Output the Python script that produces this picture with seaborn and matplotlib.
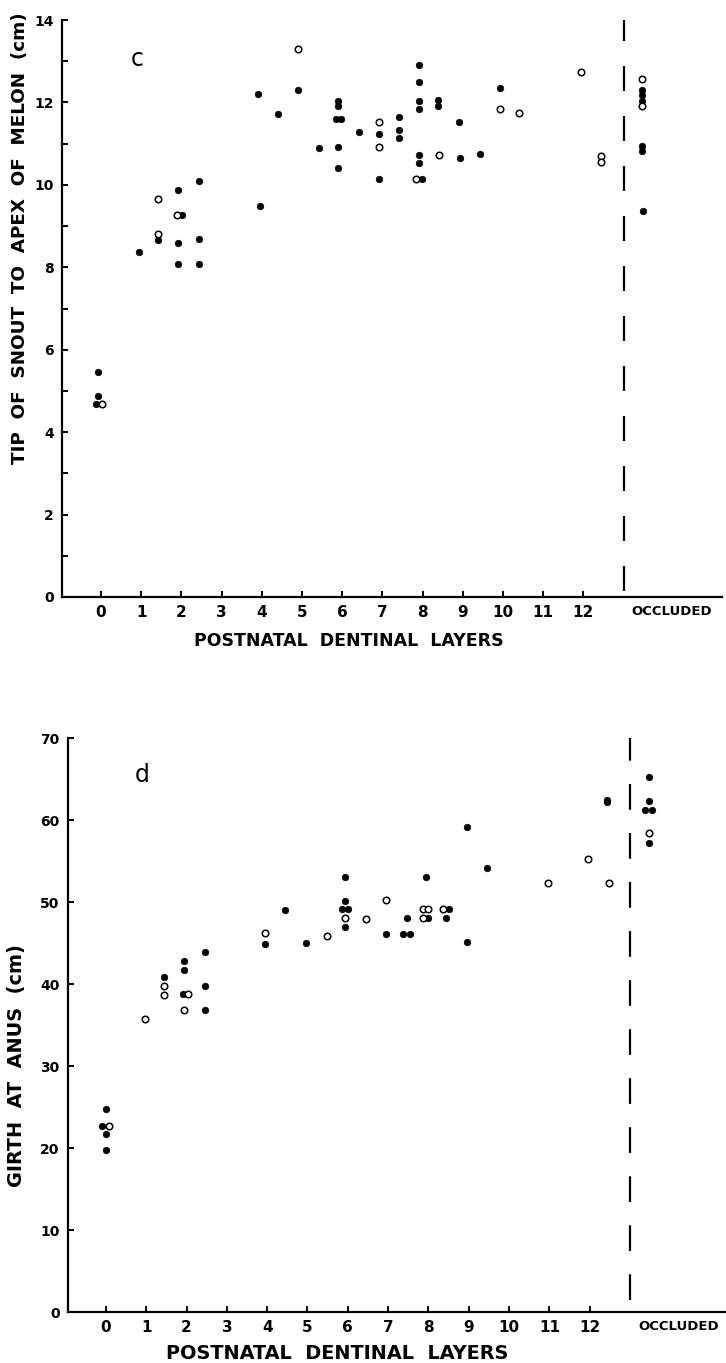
import matplotlib
matplotlib.use("Agg")
import matplotlib.pyplot as plt
import seaborn as sns
import pandas as pd

# ---------------- data (panel c: tip of snout to apex of melon, cm) ----------------
c_filled_x = [-0.07, -0.07, -0.12, 0.95, 1.43, 1.92, 2.02, 1.92, 1.92, 2.44, 2.44, 2.44,
              3.90, 3.95, 4.41, 4.91, 5.42, 5.90, 5.90, 5.84, 5.98, 5.90, 5.90,
              6.43, 6.92, 6.92, 7.41, 7.41, 7.41, 7.90, 7.91, 7.90, 7.90, 7.91, 7.91, 7.99,
              8.39, 8.39, 8.91, 8.93, 9.43, 9.93,
              13.45, 13.45, 13.45, 13.47, 13.47, 13.48]
c_filled_y = [5.45, 4.87, 4.68, 8.38, 8.66, 9.87, 9.28, 8.58, 8.08, 10.10, 8.69, 8.07,
              12.21, 9.49, 11.71, 12.30, 10.90, 12.04, 11.92, 11.60, 11.60, 10.93, 10.42,
              11.29, 11.23, 10.13, 11.65, 11.33, 11.13, 12.91, 12.50, 12.03, 11.85, 10.72, 10.52, 10.13,
              12.07, 11.92, 11.53, 10.64, 10.74, 12.34,
              12.29, 12.18, 12.04, 10.95, 10.82, 9.37]
c_open_x = [0.03, 1.43, 1.43, 1.88, 4.91, 6.92, 6.92, 7.84, 8.41, 9.93, 10.41, 11.95,
            12.45, 12.45, 13.45, 13.45]
c_open_y = [4.68, 9.66, 8.80, 9.28, 13.30, 11.53, 10.93, 10.13, 10.73, 11.85, 11.74, 12.74,
            10.69, 10.55, 12.56, 11.92]

# ---------------- data (panel d: girth at anus, cm) ----------------
d_filled_x = [0.00, -0.10, 0.00, 0.00, 1.44, 1.94, 1.94, 1.90, 2.46, 2.46, 2.46,
              3.95, 4.44, 4.96, 5.93, 5.93, 5.86, 6.00, 5.93,
              6.95, 7.38, 7.54, 7.46, 7.93, 8.00, 8.52, 8.44, 8.95, 8.95, 9.45,
              12.44, 12.44, 13.46, 13.46, 13.36, 13.55, 13.46]
d_filled_y = [24.8, 22.7, 21.7, 19.7, 40.9, 42.8, 41.7, 38.8, 43.9, 39.8, 36.8,
              44.9, 49.0, 45.0, 53.0, 50.1, 49.1, 49.1, 47.0,
              46.1, 46.1, 46.1, 48.1, 53.1, 48.1, 49.1, 48.1, 59.2, 45.1, 54.2,
              62.2, 62.5, 65.3, 62.3, 61.2, 61.2, 57.2]
d_open_x = [0.08, 0.97, 1.44, 1.44, 2.04, 1.94, 3.95, 5.48, 5.93, 6.45, 6.95,
            7.86, 8.00, 7.86, 8.37, 10.96, 11.96, 12.47, 13.46]
d_open_y = [22.7, 35.7, 39.8, 38.7, 38.8, 36.8, 46.2, 45.9, 48.0, 47.9, 50.2,
            49.1, 49.1, 48.1, 49.1, 52.3, 55.3, 52.3, 58.4]

x_tick_values = list(range(13))
x_tick_labels = [str(v) for v in x_tick_values]
occluded_pos = 14.2
occluded_label = "OCCLUDED"
divider_x = 13

sns.set_style("ticks")
plt.rcParams['font.family'] = ['DejaVu Sans']
plt.rcParams['lines.scale_dashes'] = False
for k in ("text.color", "axes.labelcolor", "xtick.color", "ytick.color", "axes.edgecolor"):
    plt.rcParams[k] = "black"

fig = plt.figure(figsize=(7.26, 13.63), dpi=100)
ax1 = fig.add_axes([62/726, 1-597/1363, 660/726, 577/1363])
ax2 = fig.add_axes([68/726, 1-1312/1363, 658/726, 574/1363])

MS = 22
EW = 1.1


def draw(ax, fx, fy, ox, oy):
    dff = pd.DataFrame({"x": fx, "y": fy})
    dfo = pd.DataFrame({"x": ox, "y": oy})
    sns.scatterplot(data=dff, x="x", y="y", ax=ax, s=MS, color="black",
                    edgecolor="black", linewidth=0.5, zorder=3)
    sns.scatterplot(data=dfo, x="x", y="y", ax=ax, s=MS, facecolor="white",
                    edgecolor="black", linewidth=EW, zorder=3)


draw(ax1, c_filled_x, c_filled_y, c_open_x, c_open_y)
draw(ax2, d_filled_x, d_filled_y, d_open_x, d_open_y)

for ax in (ax1, ax2):
    sns.despine(ax=ax)
    for sp in ("left", "bottom"):
        ax.spines[sp].set_linewidth(1.6)
        ax.spines[sp].set_color("black")
    ax.set_xticks(x_tick_values + [occluded_pos])
    ax.set_xticklabels(x_tick_labels + [occluded_label])
    ax.xaxis.get_major_ticks()[-1].tick1line.set_visible(False)
    ax.tick_params(axis="both", which="both", direction="in", color="black",
                   width=1.4)
    ax.tick_params(axis="x", which="major", length=4, labelsize=11, pad=6)
    ax.tick_params(axis="y", which="major", length=4, labelsize=10, pad=6)
    ax.tick_params(axis="y", which="minor", length=4)
    for lab in ax.get_xticklabels() + ax.get_yticklabels():
        lab.set_fontweight("bold")
    ax.get_xticklabels()[-1].set_fontsize(9.5)

# panel c
ax1.set_xlim(-0.97, 15.45)
ax1.set_ylim(0, 14)
ax1.set_yticks([0, 2, 4, 6, 8, 10, 12, 14])
ax1.set_yticks([1, 3, 5, 7, 9, 11, 13], minor=True)
for lab in ax1.get_yticklabels():
    lab.set_fontweight("bold")
ax1.plot([divider_x, divider_x], [14.09, 0], color="black", lw=1.6,
         dashes=(18, 18), zorder=2)
ax1.set_xlabel("POSTNATAL  DENTINAL  LAYERS", fontsize=12.5, fontweight="bold")
ax1.set_ylabel("TIP  OF  SNOUT  TO  APEX  OF  MELON  (cm)", fontsize=13.2,
               fontweight="bold")
ax1.yaxis.set_label_coords(-0.05, 0.622)
ax1.xaxis.set_label_coords(0.435, -0.060)
ax1.text(0.9, 13.05, "c", fontsize=17, ha="center", va="center")

# panel d
ax2.set_xlim(-0.94, 15.38)
ax2.set_ylim(0, 70)
ax2.set_yticks([0, 10, 20, 30, 40, 50, 60, 70])
for lab in ax2.get_yticklabels():
    lab.set_fontweight("bold")
ax2.plot([divider_x, divider_x], [70.4, 0], color="black", lw=1.6,
         dashes=(18.5, 16.8), zorder=2)
ax2.set_xlabel("POSTNATAL  DENTINAL  LAYERS", fontsize=13.9, fontweight="bold")
ax2.set_ylabel("GIRTH  AT  ANUS  (cm)", fontsize=13.9, fontweight="bold")
ax2.yaxis.set_label_coords(-0.064, 0.43)
ax2.xaxis.set_label_coords(0.409, -0.056)
ax2.text(0.89, 65.5, "d", fontsize=17, ha="center", va="center")

fig.savefig("out.png", dpi=100)
